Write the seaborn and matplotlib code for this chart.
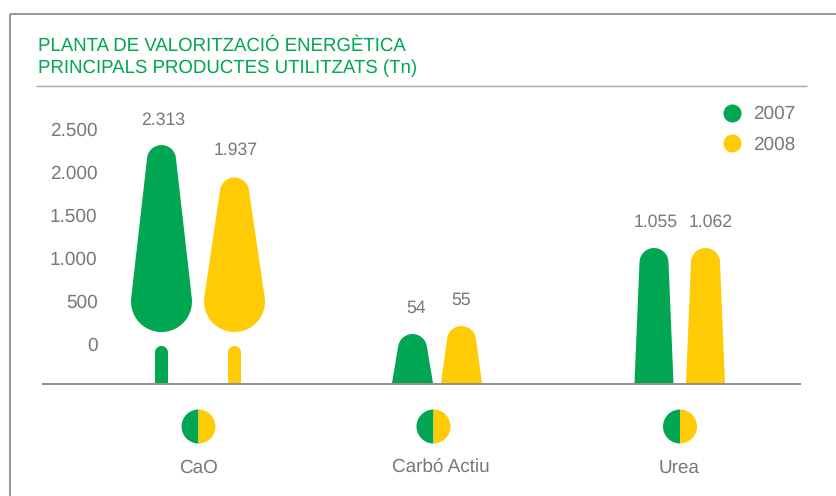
import matplotlib
matplotlib.use("Agg")
import matplotlib.pyplot as plt
import numpy as np
import pandas as pd
import seaborn as sns
from matplotlib.lines import Line2D
from matplotlib.patches import PathPatch, Wedge, Rectangle
from matplotlib.path import Path
from matplotlib.transforms import IdentityTransform

# ---- data
categories = ["CaO", "Carbó Actiu", "Urea"]
years = ["2007", "2008"]
values_2007 = [2313, 54, 1055]
values_2008 = [1937, 55, 1062]
# height at which each silhouette is drawn on the axis (small ones are not to scale)
drawn_2007 = [2313, 116, 1116]
drawn_2008 = [1937, 209, 1116]
y_ticks = [0, 500, 1000, 1500, 2000, 2500]
y_tick_labels = ["0", "500", "1.000", "1.500", "2.000", "2.500"]
title_lines = ["PLANTA DE VALORITZACIÓ ENERGÈTICA", "PRINCIPALS PRODUCTES UTILITZATS (Tn)"]

# ---- layout
W, H = 837, 496
GREEN, YELLOW, GREY, RULE = "#00A651", "#FFCB05", "#77787B", "#8E8E8E"
bar_x_2007 = [161.5, 412.5, 654]
bar_x_2008 = [234.5, 461.5, 705.5]
cat_x = [198, 440.5, 679]
icon_x = [198.5, 433.5, 680]
label_pos_2007 = [(163.5, 120), (416, 308), (656, 222)]
label_pos_2008 = [(236, 150), (461, 300), (711, 222)]
base_w = [None, 41, 39]

sns.set_theme(style="white")
plt.rcParams["font.family"] = ["Liberation Sans", "DejaVu Sans"]
plt.rcParams["text.hinting"] = "no_hinting"
plt.rcParams["text.hinting_factor"] = 8
fig = plt.figure(figsize=(W / 100, H / 100), dpi=100)
BASE_PY, TOP_PY, LEFT_PX = 383, 90, 103
ax = fig.add_axes([LEFT_PX / W, 1 - BASE_PY / H, (W - LEFT_PX) / W, (BASE_PY - TOP_PY) / H])

df = pd.DataFrame({
    "pos": bar_x_2007 + bar_x_2008,
    "drawn": drawn_2007 + drawn_2008,
    "year": [years[0]] * 3 + [years[1]] * 3,
})
sns.barplot(df, x="pos", y="drawn", hue="year", native_scale=True, dodge=False,
            palette=[GREEN, YELLOW], saturation=1, legend=False, ax=ax)
scale = 43 / 500  # px per unit
ax.set_xlim(LEFT_PX, W)
ax.set_ylim(-(BASE_PY - 344) / scale, (344 - TOP_PY) / scale)
ax.set_yticks(y_ticks, y_tick_labels)
ax.set_xticks(cat_x, categories)
ax.set_xlabel("")
ax.set_ylabel("")
ax.tick_params(axis="y", length=0, pad=4, labelsize=13.7, labelcolor=GREY)
ax.tick_params(axis="x", length=0, pad=54.5, labelsize=13.6, labelcolor=GREY)
sns.despine(ax=ax, left=True, bottom=True)
ax.patch.set_alpha(0)

ID = IdentityTransform()


def hull(points):
    pts = sorted(set(map(tuple, np.round(points, 4))))
    def half(seq):
        out = []
        for p in seq:
            while len(out) > 1 and ((out[-1][0] - out[-2][0]) * (p[1] - out[-2][1])
                                    - (out[-1][1] - out[-2][1]) * (p[0] - out[-2][0])) <= 0:
                out.pop()
            out.append(p)
        return out[:-1]
    return half(pts) + half(pts[::-1])


def circle(cx, py, r):
    t = np.linspace(0, 2 * np.pi, 180, endpoint=False)
    return np.c_[cx + r * np.cos(t), (H - py) + r * np.sin(t)]


def add_shape(points, color):
    h = np.array(hull(points))
    ax.add_patch(PathPatch(Path(np.r_[h, h[:1]], closed=True), fc=color, ec="none",
                           transform=ID, clip_on=False, zorder=3))


# silhouettes built from the geometry of the seaborn bars
bars = [p for p in ax.patches if isinstance(p, Rectangle)]
for bar in bars:
    cx = bar.get_x() + bar.get_width() / 2
    val = bar.get_height()
    color = bar.get_facecolor()
    top_py = H - ax.transData.transform((cx, val))[1]
    series = bar_x_2007 if any(abs(cx - b) < 1 for b in bar_x_2007) else bar_x_2008
    idx = int(np.argmin(np.abs(np.array(series) - cx)))
    bar.set_visible(False)
    if idx == 0:  # tree: canopy + trunk
        add_shape(np.r_[circle(cx, top_py + 14.5, 14.5), circle(cx, 332 - 30.5, 30.5)], color)
        add_shape(np.r_[circle(cx, 346 + 6.5, 6.5),
                        [[cx - 6.5, H - BASE_PY], [cx + 6.5, H - BASE_PY]]], color)
    else:
        w = base_w[idx] / 2
        add_shape(np.r_[circle(cx, top_py + 14.5, 14.5),
                        [[cx - w, H - BASE_PY], [cx + w, H - BASE_PY]]], color)

# value labels
for vals, poss in ((values_2007, label_pos_2007), (values_2008, label_pos_2008)):
    for v, (px, py) in zip(vals, poss):
        txt = f"{v:,}".replace(",", ".")
        ax.text(px, H - py, txt, transform=ID, ha="center", va="center",
                fontsize=12.7, color=GREY, clip_on=False)

# half-and-half icons under each category
for cx in icon_x:
    ax.add_patch(Wedge((cx, H - 426.5), 17, 90, 270, fc=GREEN, ec="none",
                       transform=ID, clip_on=False))
    ax.add_patch(Wedge((cx, H - 426.5), 17, 270, 90, fc=YELLOW, ec="none",
                       transform=ID, clip_on=False))

# legend
handles = [Line2D([], [], ls="", marker="o", ms=13, mfc=c, mec="none", label=y)
           for c, y in zip([GREEN, YELLOW], years)]
ax.legend(handles=handles, loc="upper right", frameon=False, fontsize=13.7,
          labelcolor=GREY, bbox_to_anchor=(795 / W, 1 - 105.5 / H), bbox_transform=fig.transFigure,
          borderpad=0, borderaxespad=0, labelspacing=0.65, handletextpad=0.6, handlelength=1.0)

# frame and rules
def pxline(x, y, lw=1.3, color=RULE):
    fig.add_artist(Line2D(np.array(x) / W, 1 - np.array(y) / H, color=color, lw=lw,
                          transform=fig.transFigure, solid_capstyle="butt"))

pxline([9.5, 9.5], [13.5, H])
pxline([9.5, W], [13.5, 13.5])
pxline([36, 807], [85.5, 85.5], lw=1.0, color="#A8A8A8")
pxline([42, 801], [383.5, 383.5], lw=1.4)

# title
for line, py in zip(title_lines, (43.5, 66.5)):
    fig.text(38 / W, 1 - py / H, line, color=GREEN, fontsize=13.45, ha="left", va="center_baseline")

fig.savefig("out.png", dpi=100)
